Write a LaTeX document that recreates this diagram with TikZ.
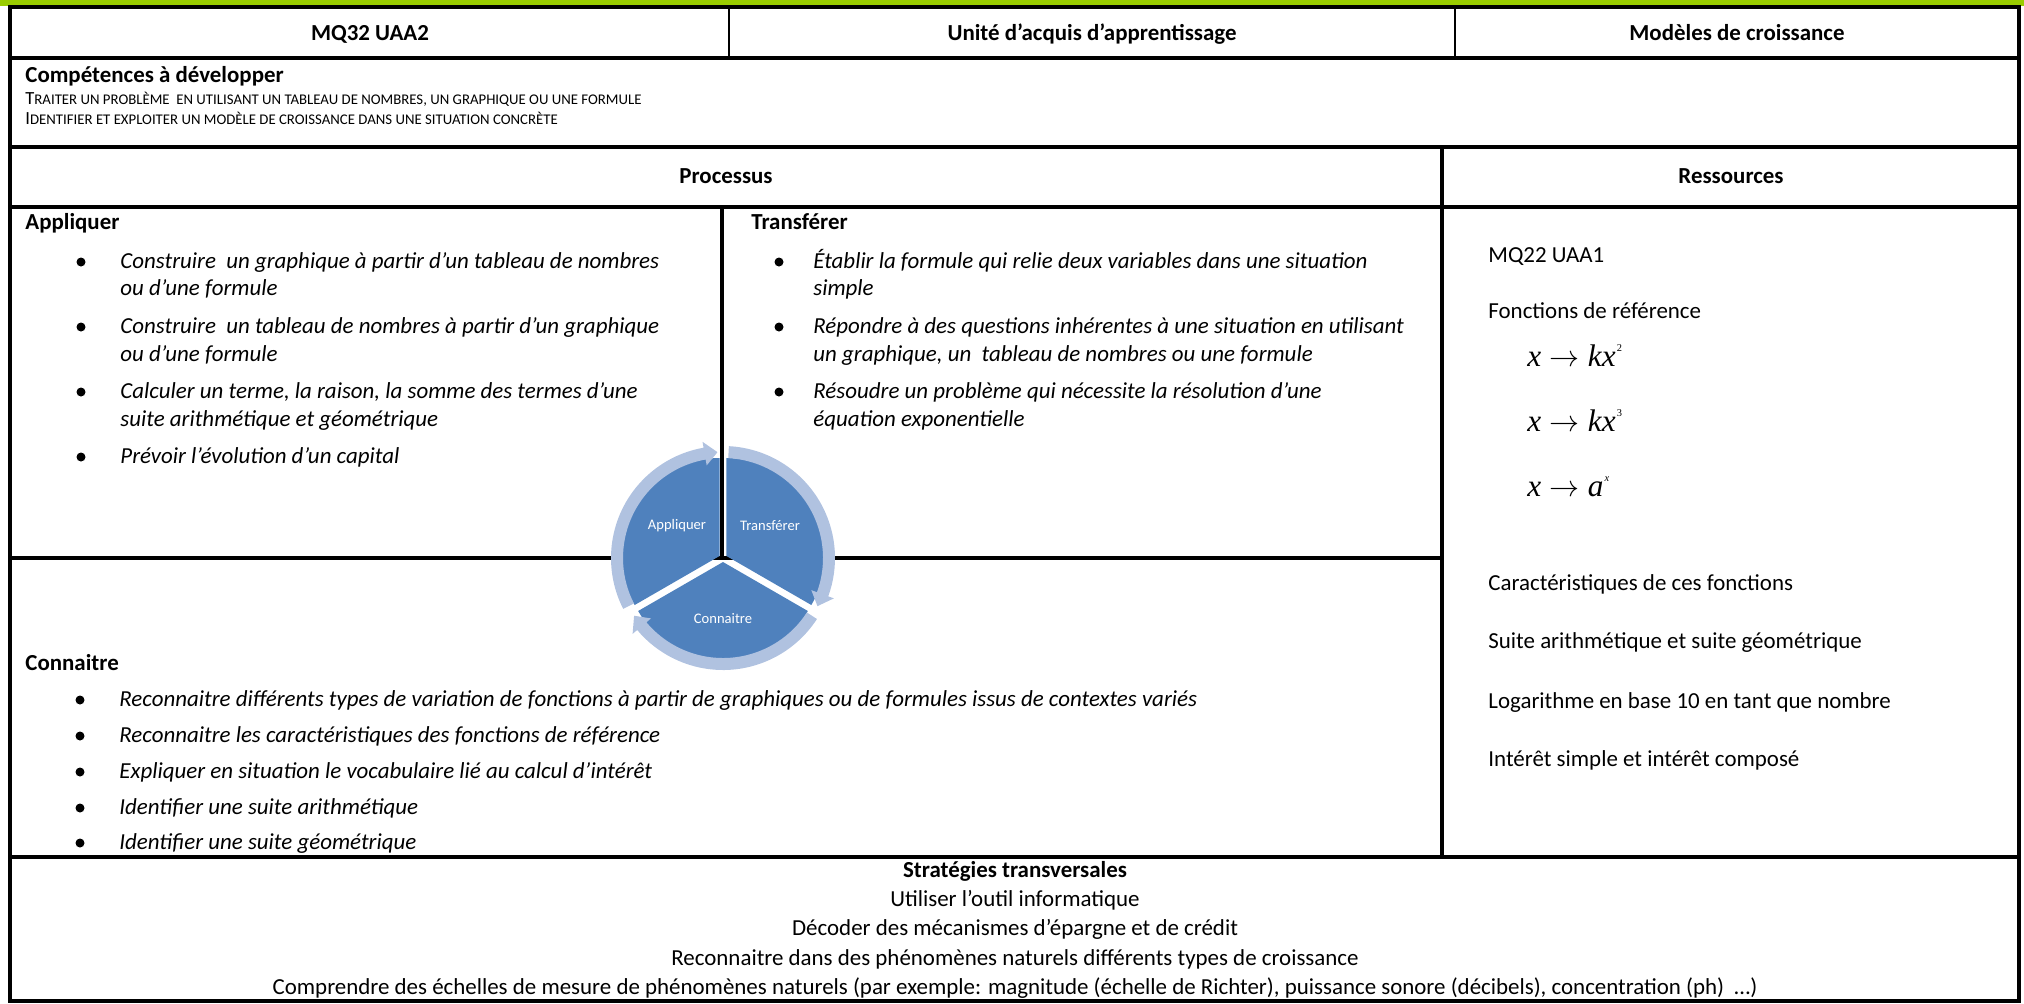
\documentclass[tikz,border=0pt]{standalone}
\usepackage{fontspec}
\setmainfont{Carlito}
\newfontfamily\eqfont{Liberation Serif}
\usetikzlibrary{positioning}

\definecolor{barGreen}{RGB}{153,204,0}
\definecolor{pieBlue}{RGB}{79,129,189}
\definecolor{ringBlue}{RGB}{176,194,224}

% small caps as Word draws them
\newcommand{\fsc}[2]{{\fontsize{8.9}{10}\selectfont #1}{\fontsize{7.1}{10}\selectfont #2}}
\newcommand{\sexp}[1]{\hspace{0.5pt}\raisebox{7pt}{\fontsize{5}{5}\selectfont #1}}
\newcommand{\maps}{\hspace{4pt}$\rightarrow$\hspace{4pt}}

\begin{document}
\begin{tikzpicture}[x=0.48pt,y=-0.48pt,font=\fontsize{11}{13.4}\selectfont,
	grid/.style={line width=1.5pt},
	txt/.style={anchor=base west,inner sep=0pt},
	itm/.style={txt,font=\fontsize{11}{13.4}\selectfont\itshape},
	hdl/.style={txt,font=\fontsize{11}{13.4}\selectfont\bfseries},
	hd/.style={anchor=base,inner sep=0pt,font=\fontsize{11}{13.4}\selectfont\bfseries},
	ctr/.style={anchor=base,inner sep=0pt},
	eq/.style={txt,font=\eqfont\fontsize{15}{15}\selectfont},
	seg/.style={text=white,inner sep=0pt,font=\fontsize{7}{8}\selectfont}]
	
	\useasboundingbox (0,0) rectangle (2024,1003);
	
	% frame of the table
	\fill[barGreen] (0,0) rectangle (2024,5.5);
	\draw[grid,line width=1.6pt] (10,7) rectangle (2019,1001);
	\draw[grid] (10,58) -- (2019,58);
	\draw[grid] (10,147) -- (2019,147);
	\draw[grid] (10,207) -- (2019,207);
	\draw[grid] (10,558) -- (1442,558);
	\draw[grid] (10,857) -- (2019,857);
	\draw[grid,line width=1.2pt] (729,7) -- (729,58);
	\draw[grid,line width=1.2pt] (1455,7) -- (1455,58);
	\draw[grid] (1442,147) -- (1442,857);
	\draw[grid] (722,207) -- (722,558);
	
	% header
	\node[hd] (mq) at (370,40) {MQ32 UAA2};
	\node[hd] (uaa) at (1092,40) {Unité d’acquis d’apprentissage};
	\node[hd] (model) at (1737,40) {Modèles de croissance};
	
	\node[hdl] (comp) at (25,82) {Compétences à développer};
	\node[txt] (comp1) at (25,104) {\fsc{T}{RAITER UN PROBLÈME\ \ EN UTILISANT UN TABLEAU DE NOMBRES, UN GRAPHIQUE OU UNE FORMULE}};
	\node[txt] (comp2) at (25,124) {\fsc{I}{DENTIFIER ET EXPLOITER UN MODÈLE DE CROISSANCE DANS UNE SITUATION CONCRÈTE}};
	
	\node[hd] (proc) at (726,183) {Processus};
	\node[hd] (res) at (1731,183) {Ressources};
	
	% Appliquer
	\node[hdl] (appl) at (25,229) {Appliquer};
	\foreach \n/\y/\t in {ap1/268/{Construire\ \ un graphique à partir d'un tableau de nombres},
		ap2/295/{ou d’une formule},
		ap3/333/{Construire\ \ un tableau de nombres à partir d'un graphique},
		ap4/361/{ou d’une formule},
		ap5/398/{Calculer un terme, la raison, la somme des termes d'une},
		ap6/426/{suite arithmétique et géométrique},
		ap7/463/{Prévoir l'évolution d'un capital}}
	\node[itm] (\n) at (120,\y) {\t};
	\foreach \y in {262,327,392,457}
	\fill (81,\y) circle (4.5);
	
	% Transferer
	\node[hdl] (trans) at (751,229) {Transférer};
	\foreach \n/\y/\t in {tr1/268/{Établir la formule qui relie deux variables dans une situation},
		tr2/295/{simple},
		tr3/333/{Répondre à des questions inhérentes à une situation en utilisant},
		tr4/361/{un graphique, un\ \ tableau de nombres ou une formule},
		tr5/398/{Résoudre un problème qui nécessite la résolution d’une},
		tr6/426/{équation exponentielle}}
	\node[itm] (\n) at (813,\y) {\t};
	\foreach \y in {262,327,392}
	\fill (779,\y) circle (4.5);
	
	% Ressources
	\node[txt] (mq22) at (1488,262) {MQ22 UAA1};
	\node[txt] (fref) at (1488,318) {Fonctions de référence};
	\node[eq] (f1) at (1527,366) {\textit{x}\maps\textit{kx}\sexp{2}};
	\node[eq] (f2) at (1527,431) {\textit{x}\maps\textit{kx}\sexp{3}};
	\node[eq] (f3) at (1527,496) {\textit{x}\maps\textit{a}\sexp{\textit{x}}};
	\foreach \n/\y/\t in {r1/590/{Caractéristiques de ces fonctions},
		r2/648/{Suite arithmétique et suite géométrique},
		r3/708/{Logarithme en base 10 en tant que nombre},
		r4/766/{Intérêt simple et intérêt composé}}
	\node[txt] (\n) at (1488,\y) {\t};
	
	% Connaitre
	\node[hdl] (conn) at (25,670) {Connaitre};
	\foreach \n/\y/\t in {co1/706/{Reconnaitre différents types de variation de fonctions à partir de graphiques ou de formules issus de contextes variés},
		co2/742/{Reconnaitre les caractéristiques des fonctions de référence},
		co3/778/{Expliquer en situation le vocabulaire lié au calcul d’intérêt},
		co4/814/{Identifier une suite arithmétique},
		co5/849/{Identifier une suite géométrique}}
	\node[itm] (\n) at (119,\y) {\t};
	\foreach \y in {700,736,772,808,843}
	\fill (80,\y) circle (4.5);
	
	% Strategies
	\node[hd] (strat) at (1015,877) {Stratégies transversales};
	\foreach \n/\y/\t in {st1/906/{Utiliser l’outil informatique},
		st2/935/{Décoder des mécanismes d'épargne et de crédit},
		st3/965/{Reconnaitre dans des phénomènes naturels différents types de croissance},
		st4/994/{Comprendre des échelles de mesure de phénomènes naturels (par exemple: magnitude (échelle de Richter), puissance sonore (décibels), concentration (ph)\ \ …)}}
	\node[ctr] (\n) at (1015,\y) {\t};
	
	% cycle
	\begin{scope}[shift={(723,558)},yscale=-1]
		\foreach \a in {150,30,270}
		\fill[pieBlue,shift={(\a:4)}] (0,0) -- ({\a-60}:98) arc[start angle=\a-60,end angle=\a+60,radius=98] -- cycle;
		\foreach \s in {87,-33,-153}
		\fill[ringBlue] (\s:112) arc[start angle=\s,end angle=\s-107,radius=112] -- ({\s-107}:118) -- ({\s-114}:106) -- ({\s-107}:94) -- ({\s-107}:100) arc[start angle=\s-107,end angle=\s,radius=100] -- cycle;
		\node[seg] (segAp) at (-46,32) {Appliquer};
		\node[seg] (segTr) at (47,32) {Transférer};
		\node[seg] (segCo) at (0,-61) {Connaitre};
	\end{scope}
	
\end{tikzpicture}
\end{document}
